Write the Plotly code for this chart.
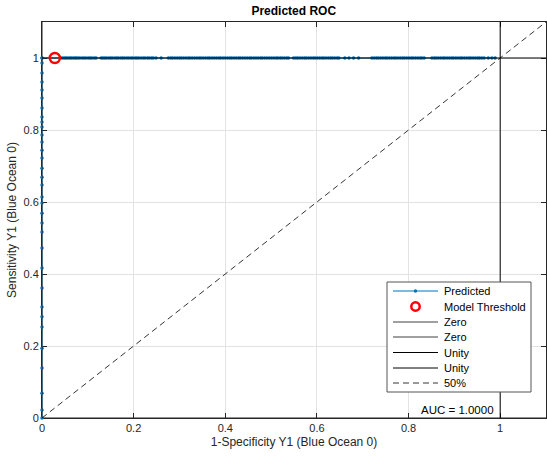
import plotly.graph_objects as go

# ---- data ----
tpr_vertical = [0, 0.022, 0.069, 0.139, 0.194, 0.253, 0.281, 0.308, 0.361, 0.417, 0.472,
                0.517, 0.542, 0.569, 0.597, 0.614, 0.647, 0.669, 0.694, 0.722, 0.744,
                0.767, 0.786, 0.808, 0.822, 0.836, 0.861, 0.889, 0.911, 0.933, 0.958,
                0.986, 1.0]
fpr_horizontal = [0.0, 0.042, 0.046, 0.05, 0.053, 0.057, 0.061, 0.064, 0.068, 0.072, 0.075, 0.079,
                  0.083, 0.088, 0.092, 0.096, 0.101, 0.105, 0.109, 0.114, 0.118,
                  0.129, 0.133, 0.137, 0.141, 0.146, 0.15, 0.154, 0.159, 0.163, 0.167, 0.172,
                  0.176, 0.18, 0.185, 0.189, 0.194, 0.198, 0.203, 0.207, 0.211, 0.216, 0.221,
                  0.225, 0.23, 0.234, 0.239, 0.243, 0.249, 0.26,
                  0.276, 0.281, 0.285, 0.29, 0.295, 0.3, 0.304, 0.309, 0.314, 0.319, 0.323,
                  0.328, 0.333, 0.338, 0.343, 0.347, 0.352, 0.357, 0.362, 0.366, 0.371, 0.376,
                  0.381, 0.386, 0.39, 0.395, 0.4, 0.405, 0.41, 0.414, 0.419, 0.424, 0.429,
                  0.433, 0.438, 0.443, 0.448, 0.453, 0.457, 0.462, 0.467, 0.472, 0.477, 0.481,
                  0.486, 0.491, 0.496, 0.501, 0.506, 0.511, 0.515, 0.52, 0.524, 0.529, 0.534,
                  0.538, 0.549, 0.554, 0.558, 0.563, 0.568, 0.573, 0.577, 0.582, 0.587, 0.592,
                  0.596, 0.601, 0.606, 0.611, 0.615, 0.62, 0.625, 0.63, 0.634, 0.639, 0.644,
                  0.648, 0.661, 0.67, 0.68, 0.691,
                  0.72, 0.725, 0.73, 0.734, 0.739, 0.744, 0.749, 0.753, 0.758, 0.763, 0.768,
                  0.772, 0.777, 0.782, 0.787, 0.791, 0.796, 0.801, 0.806, 0.81, 0.815, 0.82,
                  0.825, 0.829, 0.834,
                  0.851, 0.856, 0.86, 0.865, 0.87, 0.875, 0.879, 0.884, 0.889, 0.894, 0.898,
                  0.903, 0.908, 0.913, 0.917, 0.922, 0.927, 0.932, 0.936, 0.941, 0.946, 0.951,
                  0.955, 0.96, 0.965, 0.974, 0.982, 0.989]

threshold_fpr = [0.028]
threshold_tpr = [1.0]
auc_value = 1.0
axis_max = 1.1
tick_vals = [0, 0.2, 0.4, 0.6, 0.8, 1]
tick_text = ["0", "0.2", "0.4", "0.6", "0.8", "1"]
legend_labels = ["Predicted", "Model Threshold", "Zero", "Zero", "Unity", "Unity", "50%"]

fpr = [0.0] * len(tpr_vertical) + fpr_horizontal
tpr = tpr_vertical + [1.0] * len(fpr_horizontal)

# ---- styles ----
FONT = "Arial, Liberation Sans, sans-serif"
BLUE = "#0072BD"
RED = "#FF0000"
ZERO_COLOR = "#262626"
UNITY_COLOR = "#000000"
W, H = 547, 460
ML, MR, MT, MB = 42, 1, 22, 42
PW, PH = W - ML - MR, H - MT - MB


def px_x(p):
    return (p - ML) / PW


def px_y(p):
    return (H - MB - p) / PH


fig = go.Figure()

fig.add_trace(go.Scatter(x=fpr, y=tpr, mode="lines+markers", name="Predicted",
                         line=dict(color=BLUE, width=1),
                         marker=dict(color=BLUE, size=3.5), showlegend=False, cliponaxis=False))
fig.add_trace(go.Scatter(x=[0, 0], y=[0, axis_max], mode="lines", name="Zero",
                         line=dict(color=ZERO_COLOR, width=1), showlegend=False, cliponaxis=False))
fig.add_trace(go.Scatter(x=[0, axis_max], y=[0, 0], mode="lines", name="Zero",
                         line=dict(color=ZERO_COLOR, width=1), showlegend=False, cliponaxis=False))
fig.add_trace(go.Scatter(x=[1, 1], y=[0, axis_max], mode="lines", name="Unity",
                         line=dict(color=UNITY_COLOR, width=1), showlegend=False))
fig.add_trace(go.Scatter(x=[0, axis_max], y=[1, 1], mode="lines", name="Unity",
                         line=dict(color=UNITY_COLOR, width=1), showlegend=False))
fig.add_trace(go.Scatter(x=[0, axis_max], y=[0, axis_max], mode="lines", name="50%",
                         line=dict(color="#000000", width=0.8, dash="6px,4px"), showlegend=False))
fig.add_trace(go.Scatter(x=threshold_fpr, y=threshold_tpr, mode="markers", name="Model Threshold",
                         marker=dict(symbol="circle-open", color=RED, size=10,
                                     line=dict(width=2.5, color=RED)),
                         showlegend=False, cliponaxis=False))

axis_common = dict(range=[0, axis_max], tickvals=tick_vals, ticktext=tick_text,
                   showgrid=True, gridcolor="#E3E3E3", gridwidth=1, zeroline=False,
                   showline=True, linecolor="#262626", linewidth=1, mirror="ticks",
                   ticks="inside", ticklen=5, tickcolor="#262626", layer="below traces",
                   tickfont=dict(family=FONT, size=11, color="#262626"))

# ---- compact legend box (MATLAB style) ----
shapes = []
annotations = []
box_l, box_r, box_t, box_b = 387, 531, 282, 392
shapes.append(dict(type="rect", xref="paper", yref="paper",
                   x0=px_x(box_l), x1=px_x(box_r), y0=px_y(box_b), y1=px_y(box_t),
                   fillcolor="white", line=dict(color="#555555", width=1), layer="above"))
row_y = [291, 306.5, 322, 337, 352.5, 368, 383]
samp_l, samp_r, text_x = 393, 438, 442
styles = [
    dict(color=BLUE, width=1, dash="solid"),
    None,
    dict(color="#404040", width=1, dash="solid"),
    dict(color="#404040", width=1, dash="solid"),
    dict(color=UNITY_COLOR, width=1, dash="solid"),
    dict(color=UNITY_COLOR, width=1, dash="solid"),
    dict(color="#000000", width=0.8, dash="6px,4px"),
]
for label, ry, st in zip(legend_labels, row_y, styles):
    if st is not None:
        shapes.append(dict(type="line", xref="paper", yref="paper",
                           x0=px_x(samp_l), x1=px_x(samp_r), y0=px_y(ry), y1=px_y(ry),
                           line=st, layer="above"))
    annotations.append(dict(x=px_x(text_x), y=px_y(ry), xref="paper", yref="paper",
                            xanchor="left", yanchor="middle", text=label, showarrow=False,
                            font=dict(family=FONT, size=11, color="#000000")))
cx = (samp_l + samp_r) / 2
shapes.append(dict(type="circle", xref="paper", yref="paper",
                   x0=px_x(cx - 1.7), x1=px_x(cx + 1.7), y0=px_y(row_y[0] + 1.7), y1=px_y(row_y[0] - 1.7),
                   fillcolor=BLUE, line=dict(color=BLUE, width=0), layer="above"))
shapes.append(dict(type="circle", xref="paper", yref="paper",
                   x0=px_x(cx - 4.2), x1=px_x(cx + 4.2), y0=px_y(row_y[1] + 4.2), y1=px_y(row_y[1] - 4.2),
                   fillcolor="rgba(0,0,0,0)", line=dict(color=RED, width=2.5), layer="above"))

annotations.append(dict(x=0.99, y=0.022, xref="x", yref="y", xanchor="right", yanchor="middle",
                        text=f"AUC = {auc_value:.4f}", showarrow=False,
                        font=dict(family=FONT, size=11.5, color="#000000")))

fig.update_layout(
    width=W, height=H,
    margin=dict(l=ML, r=MR, t=MT, b=MB),
    paper_bgcolor="white", plot_bgcolor="white",
    title=dict(text="<b>Predicted ROC</b>", x=0.537, xanchor="center", y=0.977, yanchor="middle",
               font=dict(family=FONT, size=12, color="#000000")),
    xaxis=dict(title=dict(text="1-Specificity Y1 (Blue Ocean 0)", standoff=4,
                          font=dict(family=FONT, size=12, color="#262626")), **axis_common),
    yaxis=dict(title=dict(text="Sensitivity Y1 (Blue Ocean 0)", standoff=4,
                          font=dict(family=FONT, size=12, color="#262626")), **axis_common),
    showlegend=False,
    shapes=shapes,
    annotations=annotations,
)

fig.write_html("out.html")
